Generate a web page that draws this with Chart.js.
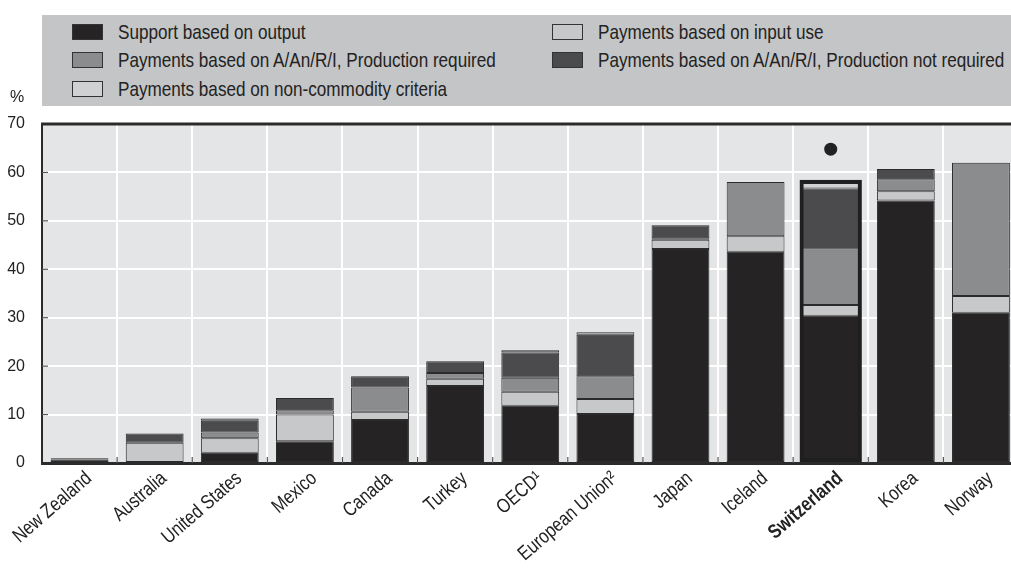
<!DOCTYPE html>
<html>
<head>
<meta charset="utf-8">
<script src="https://cdn.jsdelivr.net/npm/chart.js@4.4.1/dist/chart.umd.min.js"></script>
<style>
    body { margin: 0; width: 1011px; height: 571px; overflow: hidden; background: #fff; position: relative; }
    #chart { position: absolute; left: 0; top: 0; }
    #legend { position: absolute; left: 42px; top: 15px; width: 980px; height: 91px; background: #c4c5c6; }
    .item { position: absolute; height: 20px; display: flex; align-items: center; }
    .box { width: 29px; height: 14px; border: 1.5px solid #333; margin-right: 15px; }
    .txt { font-family: "Liberation Sans", Arial, sans-serif; font-size: 21px; color: #222; white-space: nowrap;
           transform: scaleX(0.815); transform-origin: left center; }
    #pct { position: absolute; left: 10px; top: 88px; font-family: "Liberation Sans", Arial, sans-serif; font-size: 16px; color: #222; }
</style>
</head>
<body>
<canvas id="chart" width="1025" height="571"></canvas>
<div id="legend"></div>
<div id="pct">%</div>
<script>
const countries = ['New Zealand', 'Australia', 'United States', 'Mexico', 'Canada', 'Turkey', 'OECD\u00b9',
    'European Union\u00b2', 'Japan', 'Iceland', 'Switzerland', 'Korea', 'Norway'];

const supportOutput = [0.7, 0, 2.1, 4.5, 8.9, 15.9, 11.8, 10.1, 44.2, 43.6, 30.4, 54.2, 31.0];
const inputUse      = [0, 4.2, 3.0, 5.5, 1.7, 1.5, 2.9, 3.1, 1.9, 3.2, 2.2, 1.9, 3.5];
const prodRequired  = [0, 0, 1.2, 0.9, 5.0, 1.2, 2.9, 4.7, 0.3, 11.2, 11.5, 2.5, 27.5];
const prodNotReq    = [0.3, 1.9, 2.4, 2.5, 2.3, 2.4, 5.2, 8.6, 2.7, 0, 12.6, 2.1, 0];
const nonCommodity  = [0, 0, 0.5, 0, 0, 0, 0.5, 0.5, 0, 0, 1.1, 0, 0];
// Switzerland highlight outline and the dot above it
const highlight     = [null, null, null, null, null, null, null, null, null, null, 58.5, null, null];
const dotValue      = [null, null, null, null, null, null, null, null, null, null, 64.8, null, null];

const seriesLabels = ['Support based on output', 'Payments based on input use',
    'Payments based on A/An/R/I, Production required', 'Payments based on A/An/R/I, Production not required',
    'Payments based on non-commodity criteria'];
const seriesColors = ['#252324', '#c7c8c9', '#8b8c8d', '#4b4b4d', '#d0d1d2'];
const seriesData = [supportOutput, inputUse, prodRequired, prodNotReq, nonCommodity];

// legend laid out in two columns like the original
const legendPos = [[30, 7], [510, 7], [30, 35], [510, 35], [30, 64]];
const legend = document.getElementById('legend');
seriesLabels.forEach((lab, i) => {
    const d = document.createElement('div');
    d.className = 'item';
    d.style.left = legendPos[i][0] + 'px';
    d.style.top = legendPos[i][1] + 'px';
    d.innerHTML = `<div class="box" style="background:${seriesColors[i]}"></div><span class="txt">${lab}</span>`;
    legend.appendChild(d);
});

const datasets = seriesData.map((arr, i) => ({
    label: seriesLabels[i],
    data: arr.map(v => v || null),
    backgroundColor: seriesColors[i],
    borderColor: '#2b2b2b',
    borderWidth: 1,
    borderSkipped: false,
    barPercentage: 0.77,
    categoryPercentage: 1
}));
datasets.push({
    label: 'outline',
    data: highlight,
    stack: 'outline',
    grouped: false,
    order: -1,
    backgroundColor: 'rgba(0,0,0,0)',
    borderColor: '#1f1f1f',
    borderWidth: 4,
    borderSkipped: false,
    barPercentage: 0.83,
    categoryPercentage: 1
});
datasets.push({
    type: 'line',
    label: 'dot',
    data: dotValue,
    stack: 'dot',
    order: -2,
    showLine: false,
    pointRadius: 6.5,
    pointBackgroundColor: '#222',
    pointBorderWidth: 0
});

const plotDecor = {
    id: 'plotDecor',
    beforeDraw(chart) {
        const {ctx, chartArea: a} = chart;
        ctx.save();
        ctx.fillStyle = '#e4e5e6';
        ctx.fillRect(a.left, a.top, a.right - a.left, a.bottom - a.top);
        ctx.restore();
    },
    afterDraw(chart) {
        const {ctx, chartArea: a} = chart;
        const x = chart.scales.x, y = chart.scales.y;
        ctx.save();
        ctx.strokeStyle = '#2b2b2b';
        ctx.lineWidth = 3;
        ctx.beginPath();
        ctx.moveTo(a.left - 1, a.top);
        ctx.lineTo(a.right + 5, a.top);
        ctx.stroke();
        ctx.lineWidth = 1.2;
        ctx.strokeStyle = '#555';
        for (let i = 1; i < countries.length; i++) {
            const px = (x.getPixelForTick(i - 1) + x.getPixelForTick(i)) / 2;
            ctx.beginPath();
            ctx.moveTo(px, a.bottom);
            ctx.lineTo(px, a.bottom - 6);
            ctx.stroke();
        }
        for (let v = 10; v < 70; v += 10) {
            const py = y.getPixelForValue(v);
            ctx.beginPath();
            ctx.moveTo(a.left, py);
            ctx.lineTo(a.left + 6, py);
            ctx.stroke();
        }
        // condensed, rotated category labels
        ctx.fillStyle = '#222';
        ctx.textAlign = 'right';
        ctx.textBaseline = 'alphabetic';
        countries.forEach((lab, i) => {
            const cx = x.getPixelForTick(i);
            ctx.save();
            ctx.translate(cx + 13, a.bottom + 17);
            ctx.rotate(-41 * Math.PI / 180);
            ctx.scale(0.82, 1);
            ctx.font = (lab === 'Switzerland' ? 'bold ' : '') + '20px "Liberation Sans", Arial, sans-serif';
            ctx.fillText(lab, 0, 0);
            ctx.restore();
        });
        ctx.restore();
    }
};

new Chart(document.getElementById('chart'), {
    type: 'bar',
    data: { labels: countries, datasets: datasets },
    options: {
        responsive: false,
        animation: false,
        devicePixelRatio: 1,
        layout: { padding: { top: 124, right: 2, left: 0, bottom: 0 } },
        plugins: { legend: { display: false }, tooltip: { enabled: false } },
        scales: {
            x: {
                stacked: true,
                afterFit: s => { s.height = 108; },
                grid: { color: '#ffffff', lineWidth: 2, drawTicks: false, offset: true },
                border: { color: '#2b2b2b', width: 3 },
                ticks: { display: false }
            },
            y: {
                stacked: true,
                min: 0,
                max: 70,
                afterFit: s => { s.width = 42; },
                grid: { color: '#ffffff', lineWidth: 2, drawTicks: false },
                border: { color: '#2b2b2b', width: 2 },
                ticks: {
                    stepSize: 10,
                    color: '#222',
                    padding: 17,
                    font: { family: '"Liberation Sans", Arial, sans-serif', size: 16 }
                }
            }
        }
    },
    plugins: [plotDecor]
});
</script>
</body>
</html>
